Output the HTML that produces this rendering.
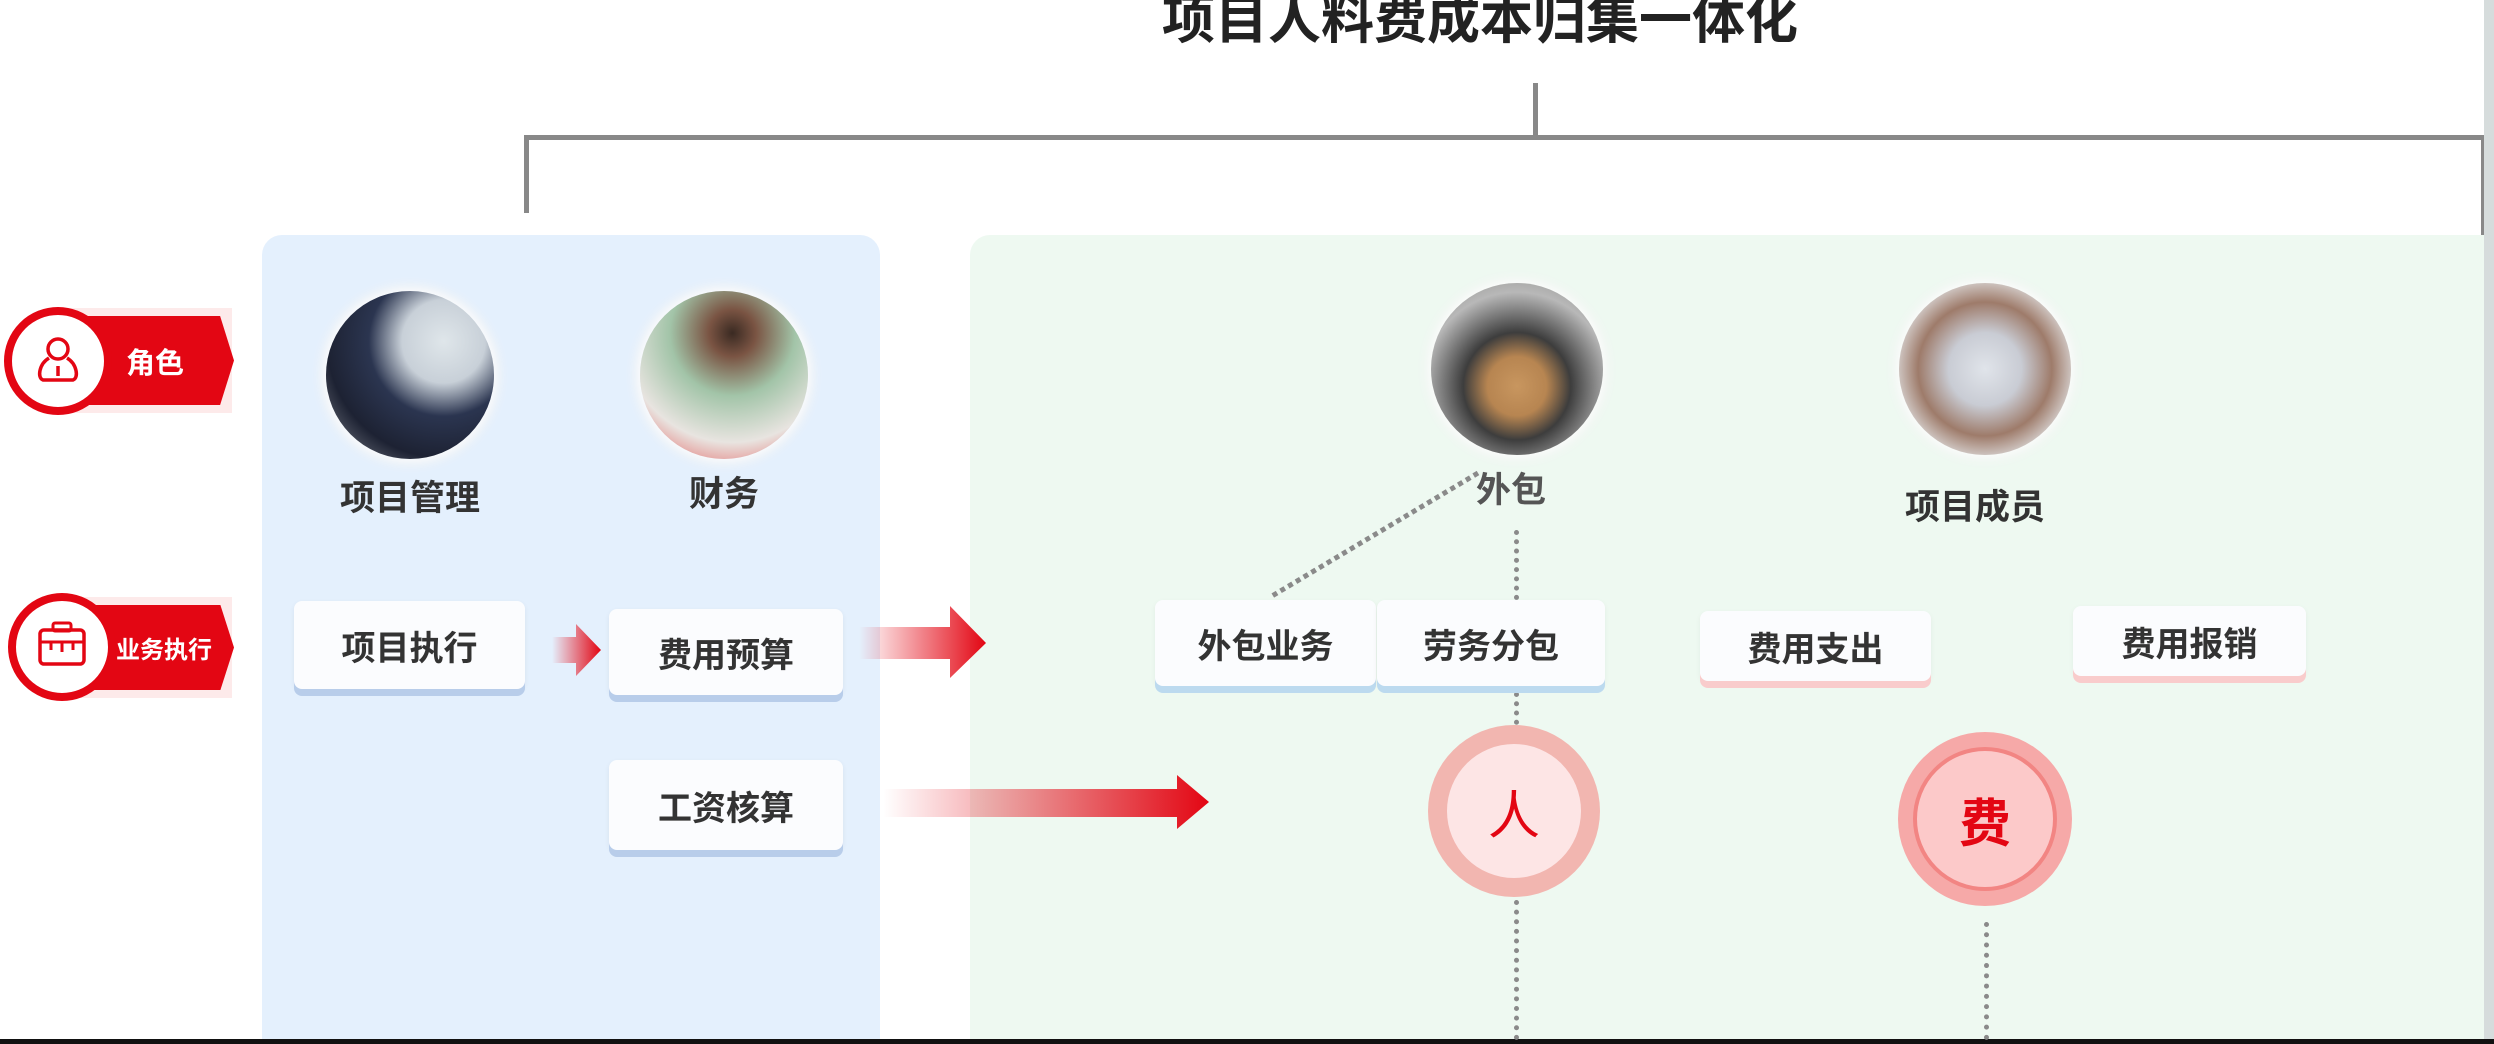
<!DOCTYPE html>
<html><head><meta charset="utf-8">
<style>
*{margin:0;padding:0;box-sizing:border-box}
body{width:2494px;height:1044px;background:#fff;position:relative;overflow:hidden;font-family:"Liberation Sans","Noto Sans CJK SC",sans-serif}
.a{position:absolute}
.t{position:absolute;white-space:nowrap;font-weight:bold;color:#333;text-align:center}
.box{position:absolute;background:#fbfcfe;border-radius:8px;box-shadow:0 7px 0 #b8cdea,0 2px 6px rgba(0,0,0,.06);display:flex;align-items:center;justify-content:center;font-size:34px;font-weight:bold;color:#333}
.pk{box-shadow:0 7px 0 #f9cccc,0 2px 6px rgba(0,0,0,.05)}
.lb{box-shadow:0 7px 0 #bcdaef,0 2px 6px rgba(0,0,0,.05)}
.av{position:absolute;border-radius:50%;box-shadow:0 0 10px 6px rgba(255,255,255,.9),0 0 14px rgba(0,0,0,.15)}
.dv{position:absolute;width:0;border-left:5px dotted #8a8a8a}
</style></head><body>
<div class="t" style="left:1100px;top:-22px;width:760px;font-size:53px;color:#222">项目人料费成本归集一体化</div>
<!-- bracket -->
<div class="a" style="left:1533px;top:83px;width:5px;height:55px;background:#888"></div>
<div class="a" style="left:524px;top:135px;width:1962px;height:5px;background:#888"></div>
<div class="a" style="left:524px;top:135px;width:5px;height:78px;background:#888"></div>
<div class="a" style="left:2481px;top:135px;width:5px;height:180px;background:#888"></div>
<!-- panels -->
<div class="a" style="left:262px;top:235px;width:618px;height:805px;background:#e4f0fd;border-radius:20px 20px 0 0"></div>
<div class="a" style="left:970px;top:235px;width:1516px;height:805px;background:#eef9f1;border-radius:20px 0 0 0"></div>
<div class="a" style="left:2484px;top:0;width:10px;height:1044px;background:#d6dcdc"></div>
<div class="a" style="left:0;top:1039px;width:2494px;height:5px;background:#111"></div>
<!-- badges -->
<div class="a" style="left:60px;top:308px;width:172px;height:105px;background:#fdeaea"></div>
<div class="a" style="left:60px;top:316px;width:174px;height:89px;background:#e30613;clip-path:polygon(0 0,92% 0,100% 50%,92% 100%,0 100%)"></div>
<div class="a" style="left:4px;top:307px;width:108px;height:108px;border-radius:50%;background:#fff;border:8px solid #e30613"></div>
<svg class="a" style="left:33px;top:334px" width="50" height="52" viewBox="0 0 50 52"><circle cx="25" cy="15" r="10" fill="none" stroke="#e30613" stroke-width="3.5"/><path d="M16 24 C6 30 4 44 10 46 L40 46 C46 44 44 30 34 24" fill="none" stroke="#e30613" stroke-width="3.5"/><line x1="25" y1="32" x2="25" y2="42" stroke="#e30613" stroke-width="3.5"/></svg>
<div class="t" style="left:126px;top:340px;font-size:29px;color:#fff">角色</div>

<div class="a" style="left:64px;top:597px;width:168px;height:101px;background:#fdeaea"></div>
<div class="a" style="left:64px;top:605px;width:170px;height:85px;background:#e30613;clip-path:polygon(0 0,92% 0,100% 50%,92% 100%,0 100%)"></div>
<div class="a" style="left:8px;top:593px;width:108px;height:108px;border-radius:50%;background:#fff;border:8px solid #e30613"></div>
<svg class="a" style="left:36px;top:620px" width="52" height="48" viewBox="0 0 52 48"><rect x="4" y="10" width="44" height="34" rx="4" fill="none" stroke="#e30613" stroke-width="3.5"/><rect x="17" y="3" width="18" height="8" rx="2" fill="none" stroke="#e30613" stroke-width="3"/><line x1="4" y1="22" x2="48" y2="22" stroke="#e30613" stroke-width="3"/><line x1="15" y1="22" x2="15" y2="30" stroke="#e30613" stroke-width="3"/><line x1="26" y1="22" x2="26" y2="32" stroke="#e30613" stroke-width="3"/><line x1="37" y1="22" x2="37" y2="30" stroke="#e30613" stroke-width="3"/></svg>
<div class="t" style="left:116px;top:630px;font-size:24px;color:#fff">业务执行</div>

<!-- avatars -->
<div class="av" style="left:326px;top:291px;width:168px;height:168px;background:radial-gradient(circle at 70% 30%,#dfe6ea 0,#c8d0d8 25%,#2b3550 45%,#1d2233 70%,#8b8f97 100%)"></div>
<div class="av" style="left:640px;top:291px;width:168px;height:168px;background:radial-gradient(circle at 55% 25%,#3a2a22 0,#7a5443 15%,#a2c4a8 40%,#e8e4e0 70%,#e35050 100%)"></div>
<div class="av" style="left:1431px;top:283px;width:172px;height:172px;background:radial-gradient(circle at 50% 60%,#c8965f 0,#b78551 22%,#3d3d3d 40%,#b8b8b8 70%,#8a8a86 100%)"></div>
<div class="av" style="left:1899px;top:283px;width:172px;height:172px;background:radial-gradient(circle at 50% 50%,#e0e4ea 0,#c9ccd4 30%,#9e7b6a 55%,#e8ecef 80%,#d6dbe0 100%)"></div>
<div class="t" style="left:310px;top:470px;width:200px;font-size:35px">项目管理</div>
<div class="t" style="left:624px;top:466px;width:200px;font-size:35px">财务</div>
<div class="t" style="left:1411px;top:462px;width:200px;font-size:35px;color:#555">外包</div>
<div class="t" style="left:1875px;top:479px;width:200px;font-size:35px">项目成员</div>

<!-- dotted connectors -->
<div class="dv" style="left:1514px;top:530px;height:70px"></div>
<div class="dv" style="left:1514px;top:692px;height:42px"></div>
<div class="dv" style="left:1514px;top:900px;height:140px"></div>
<div class="dv" style="left:1984px;top:922px;height:118px"></div>
<svg class="a" style="left:0;top:0" width="2494" height="1044"><line x1="1478" y1="473" x2="1272" y2="596" stroke="#8a8a8a" stroke-width="5" stroke-dasharray="5 4"/></svg>

<!-- boxes -->
<div class="box" style="left:294px;top:601px;width:231px;height:88px">项目执行</div>
<div class="box" style="left:609px;top:609px;width:234px;height:86px">费用预算</div>
<div class="box" style="left:609px;top:760px;width:234px;height:90px">工资核算</div>
<div class="box lb" style="left:1155px;top:600px;width:221px;height:86px">外包业务</div>
<div class="box lb" style="left:1377px;top:600px;width:228px;height:86px">劳务分包</div>
<div class="box pk" style="left:1700px;top:611px;width:231px;height:70px">费用支出</div>
<div class="box pk" style="left:2073px;top:606px;width:233px;height:70px">费用报销</div>

<!-- arrows -->
<svg class="a" style="left:0;top:0" width="2494" height="1044">
<defs>
<linearGradient id="g1" x1="0" x2="1"><stop offset="0" stop-color="#e30613" stop-opacity="0"/><stop offset="1" stop-color="#e30613"/></linearGradient>
</defs>
<polygon points="552,637 576,637 576,624 601,650 576,676 576,663 552,663" fill="url(#g1)"/>
<polygon points="859,627 950,627 950,606 986,643 950,678 950,659 859,659" fill="url(#g1)"/>
<polygon points="883,789 1177,789 1177,775 1209,802 1177,829 1177,817 883,817" fill="url(#g1)"/>
</svg>

<!-- circles -->
<div class="a" style="left:1428px;top:725px;width:172px;height:172px;border-radius:50%;background:#f2b6b0"></div>
<div class="a" style="left:1447px;top:744px;width:134px;height:134px;border-radius:50%;background:#fde5e5;display:flex;align-items:center;justify-content:center;color:#e30613;font-size:52px">人</div>
<div class="a" style="left:1898px;top:732px;width:174px;height:174px;border-radius:50%;background:#f6a9a8"></div>
<div class="a" style="left:1913px;top:747px;width:144px;height:144px;border-radius:50%;background:#fcc9c9;border:4px solid #f28583;display:flex;align-items:center;justify-content:center;color:#e30613;font-size:52px;font-weight:bold">费</div>
</body></html>
